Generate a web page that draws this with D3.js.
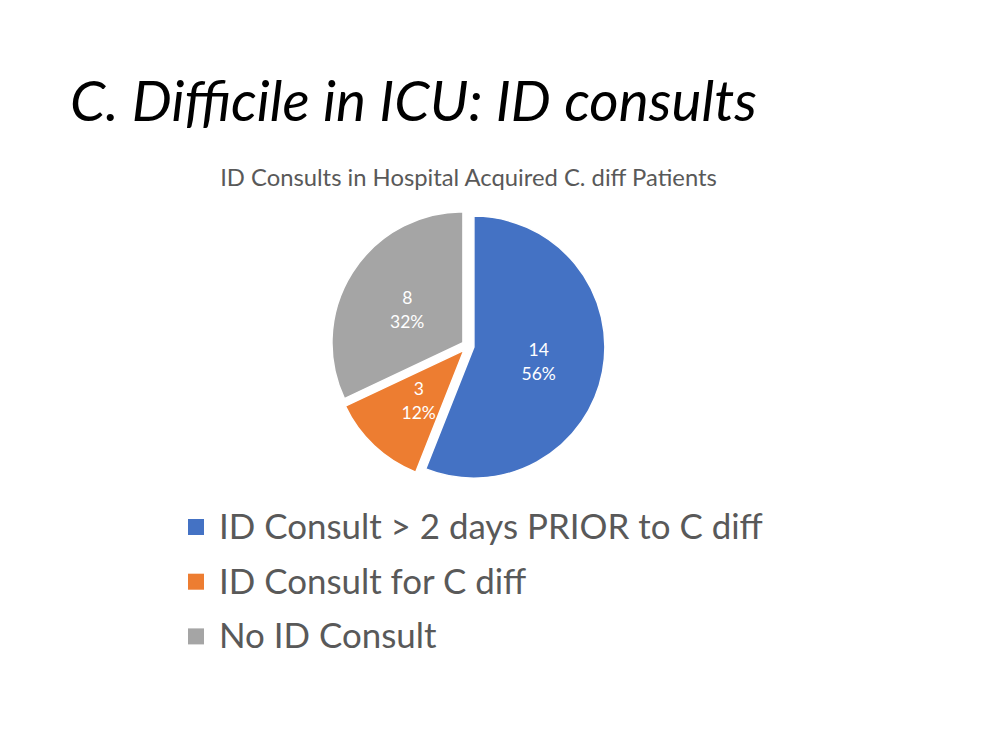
<!DOCTYPE html>
<html><head><meta charset="utf-8">
<script src="https://cdn.jsdelivr.net/npm/d3@7"></script>
<style>body{margin:0;background:#fff;} svg{display:block;}</style>
</head><body>
<svg id="chart" width="988" height="742"></svg>
<script>
const title = "C. Difficile in ICU: ID consults";
const chartTitle = "ID Consults in Hospital Acquired C. diff Patients";
const categories = ["ID Consult > 2 days PRIOR to C diff", "ID Consult for C diff", "No ID Consult"];
const values = [14, 3, 8];
const colors = ["#4472C4", "#ED7D31", "#A5A5A5"];

const svg = d3.select("#chart");
const font = "Lato, 'Open Sans', sans-serif";

function fit(sel, w) {
  const n = sel.node();
  const fs = parseFloat(sel.attr("font-size"));
  const len = n.getComputedTextLength();
  sel.attr("font-size", fs * w / len);
}

const t = svg.append("text").attr("x", 70).attr("y", 121)
  .attr("font-family", font).attr("font-style", "italic").attr("font-size", 50)
  .attr("fill", "#000").text(title);
fit(t, 687);

const st = svg.append("text").attr("x", 468.5).attr("y", 186).attr("text-anchor", "middle")
  .attr("font-family", font).attr("font-size", 18).attr("fill", "#595959").text(chartTitle);
fit(st, 497);

const cx = 468, cy = 346, r = 131, explode = 6, labelR = 66;
const total = d3.sum(values);
const pie = d3.pie().sort(null).value(d => d)(values);
const arc = d3.arc().innerRadius(0).outerRadius(r);
const labelArc = d3.arc().innerRadius(labelR).outerRadius(labelR);

const g = svg.append("g").attr("transform", `translate(${cx},${cy})`);
const slices = g.selectAll("g.slice").data(pie).join("g").attr("class", "slice")
  .attr("transform", d => {
    const a = (d.startAngle + d.endAngle) / 2;
    return `translate(${explode * Math.sin(a)},${-explode * Math.cos(a)})`;
  });
slices.append("path").attr("d", arc).attr("fill", (d, i) => colors[i])
  .attr("stroke", "#fff").attr("stroke-width", 1.5);
const lab = slices.append("text")
  .attr("transform", d => `translate(${labelArc.centroid(d)})`)
  .attr("text-anchor", "middle").attr("font-family", font).attr("font-size", 17.5)
  .attr("fill", "#fff");
lab.append("tspan").attr("x", 0).attr("dy", "-0.2em").text(d => d.data);
lab.append("tspan").attr("x", 0).attr("dy", "1.35em")
  .text(d => d3.format(".0%")(d.data / total));

const leg = svg.append("g");
const rows = leg.selectAll("g").data(categories).join("g")
  .attr("transform", (d, i) => `translate(188,${527 + i * 54.7})`);
rows.append("rect").attr("x", 0).attr("y", -8).attr("width", 16).attr("height", 16)
  .attr("fill", (d, i) => colors[i]);
const lt = rows.append("text").attr("x", 31).attr("y", 12)
  .attr("font-family", font).attr("font-size", 32).attr("fill", "#595959").text(d => d);
const first = d3.select(lt.nodes()[0]);
const fs0 = parseFloat(first.attr("font-size"));
const sc = 544 / first.node().getComputedTextLength();
lt.attr("font-size", fs0 * sc);
</script>
</body></html>
